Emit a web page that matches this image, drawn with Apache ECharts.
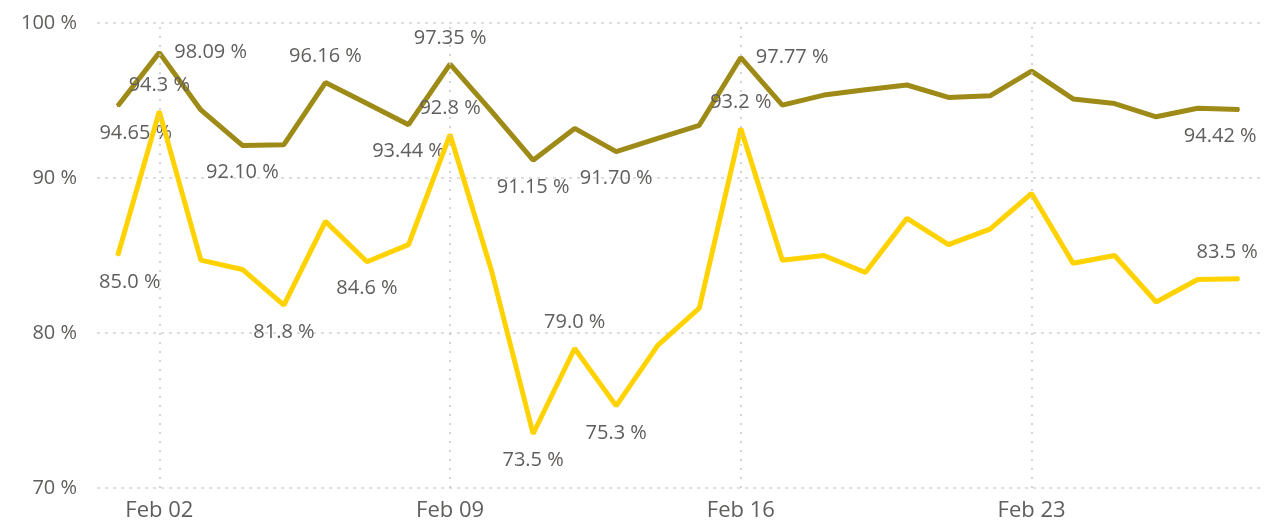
<!DOCTYPE html>
<html>
<head>
<meta charset="utf-8">
<script src="https://cdn.jsdelivr.net/npm/echarts@6/dist/echarts.min.js"></script>
<style>
  html, body { margin: 0; padding: 0; background: #fff; }
  #chart { width: 1264px; height: 523px; }
</style>
</head>
<body>
<div id="chart"></div>
<script>
// daily dates shown on the x axis
var days = ['Feb 01', 'Feb 02', 'Feb 03', 'Feb 04', 'Feb 05', 'Feb 06', 'Feb 07',
  'Feb 08', 'Feb 09', 'Feb 10', 'Feb 11', 'Feb 12', 'Feb 13', 'Feb 14',
  'Feb 15', 'Feb 16', 'Feb 17', 'Feb 18', 'Feb 19', 'Feb 20', 'Feb 21',
  'Feb 22', 'Feb 23', 'Feb 24', 'Feb 25', 'Feb 26', 'Feb 27', 'Feb 28'];
var weekMarks = ['Feb 02', 'Feb 09', 'Feb 16', 'Feb 23'];

// upper (olive) line, in %
var upperVals = [94.65, 98.09, 94.39, 92.10, 92.15, 96.16, 94.80, 93.44, 97.35, 94.30,
  91.15, 93.20, 91.70, 92.55, 93.40, 97.77, 94.70, 95.35, 95.70, 96.00,
  95.20, 95.30, 96.90, 95.10, 94.80, 93.95, 94.50, 94.42];
// lower (yellow) line, in %
var lowerVals = [85.0, 94.3, 84.7, 84.1, 81.8, 87.2, 84.6, 85.7, 92.8, 84.0,
  73.5, 79.0, 75.3, 79.2, 81.6, 93.2, 84.7, 85.0, 83.9, 87.4,
  85.7, 86.7, 89.0, 84.5, 85.0, 82.0, 83.45, 83.5];

var yTicks = [70, 80, 90, 100];

// which points carry a data label, and where it sits
var upperLabels = {
  0: ['bottom', [18, 0]], 1: ['right', [0, 0]], 3: ['bottom', [0, 0]], 5: ['top', [0, 0]],
  7: ['bottom', [0, 0]], 8: ['top', [0, 0]], 10: ['bottom', [0, 0]], 12: ['bottom', [0, 0]],
  15: ['right', [0, 0]], 27: ['bottom', [-19, 0]]
};
var lowerLabels = {
  0: ['bottom', [12, 0]], 1: ['top', [0, 0]], 4: ['bottom', [0, 0]], 6: ['bottom', [0, 0]],
  8: ['top', [0, 0]], 10: ['bottom', [0, 0]], 11: ['top', [0, 0]], 12: ['bottom', [0, 0]],
  15: ['top', [0, 0]], 27: ['top', [-12, 0]]
};

var FONT = '"Segoe UI", "Open Sans", sans-serif';
var textColor = '#605E5C';
var labelGap = { top: 15, bottom: 16, right: 14 };

function buildData(vals, labels, digits) {
  return vals.map(function (v, i) {
    var cfg = labels[i];
    if (!cfg) return { value: v };
    return {
      value: v,
      label: {
        show: true,
        position: cfg[0],
        offset: cfg[1],
        distance: labelGap[cfg[0]],
        color: textColor,
        fontFamily: FONT,
        fontSize: 20,
        formatter: function (p) { return p.value.toFixed(digits) + ' %'; }
      }
    };
  });
}

var chart = echarts.init(document.getElementById('chart'));
chart.setOption({
  backgroundColor: '#fff',
  animation: false,
  grid: { left: 97, right: 4, top: 23, bottom: 35 },
  xAxis: {
    type: 'category',
    data: days,
    boundaryGap: true,
    axisLine: { show: false },
    axisTick: { show: false },
    axisLabel: {
      interval: function (i) { return i % 7 === 1; },
      color: textColor,
      fontFamily: FONT,
      fontSize: 22,
      margin: 12
    },
    splitLine: { show: false }
  },
  yAxis: {
    type: 'value',
    min: yTicks[0],
    max: yTicks[yTicks.length - 1],
    interval: 10,
    axisLine: { show: false },
    axisTick: { show: false },
    axisLabel: {
      formatter: '{value} %',
      color: textColor,
      fontFamily: FONT,
      fontSize: 20,
      margin: 20
    },
    splitLine: { lineStyle: { type: [3, 5], color: '#d4d4d4', width: 1.5 } }
  },
  series: [
    {
      type: 'line',
      data: buildData(upperVals, upperLabels, 2),
      symbol: 'circle',
      symbolSize: 2,
      showSymbol: true,
      lineStyle: { color: '#9E8A17', width: 5 },
      itemStyle: { color: '#9E8A17' },
      markLine: {
        silent: true,
        symbol: 'none',
        label: { show: false },
        lineStyle: { type: [2, 7], color: '#c6c6c6', width: 1.5 },
        data: weekMarks.map(function (d) { return { xAxis: d }; })
      },
      z: 2
    },
    {
      type: 'line',
      data: buildData(lowerVals, lowerLabels, 1),
      symbol: 'circle',
      symbolSize: 2,
      showSymbol: true,
      lineStyle: { color: '#FFD200', width: 5 },
      itemStyle: { color: '#FFD200' },
      z: 3
    }
  ]
});
</script>
</body>
</html>
